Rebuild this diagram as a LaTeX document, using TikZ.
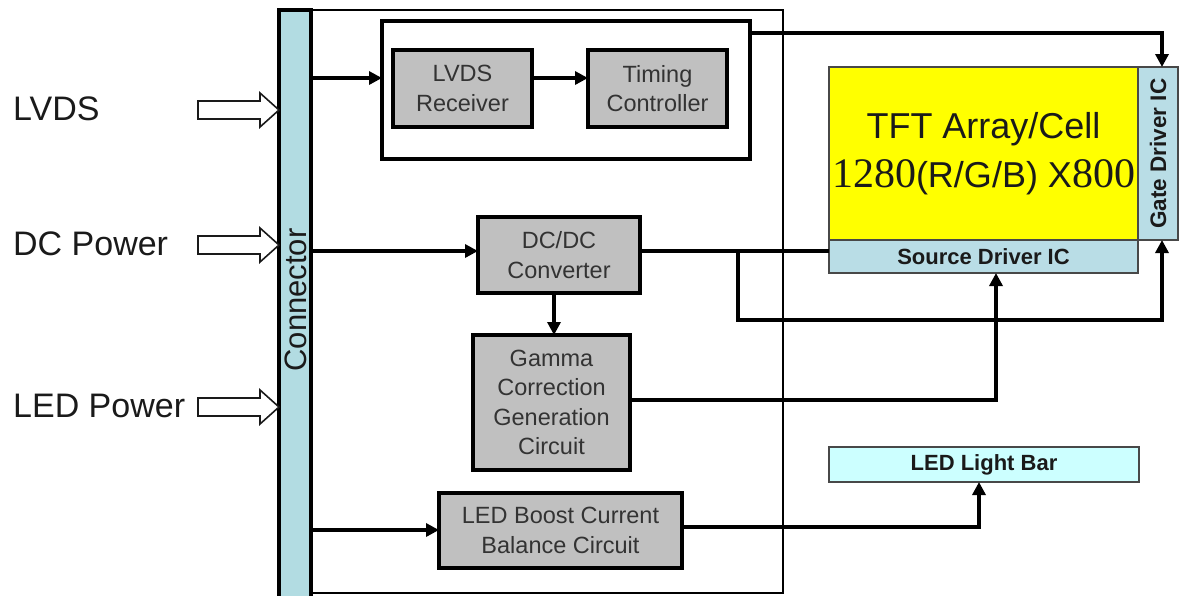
\documentclass[tikz,border=0pt]{standalone}
\usepackage{fontspec}
\setmainfont{Liberation Sans}
\newfontfamily\serifnum{Liberation Serif}
\usetikzlibrary{arrows.meta}
\definecolor{boxgray}{HTML}{C0C0C0}
\definecolor{txtgray}{HTML}{333333}
\definecolor{connfill}{HTML}{B2DCE2}
\definecolor{icfill}{HTML}{B9DDE6}
\definecolor{barfill}{HTML}{CCFFFF}
\definecolor{tftyellow}{HTML}{FFFF00}
\definecolor{ink}{HTML}{1A1A1A}
\tikzset{
  gbox/.style={draw, line width=3.3pt, fill=boxgray, text=txtgray, align=center, inner sep=0pt, outer sep=0pt, font=\fontsize{23.5}{29.5}\selectfont},
  icbox/.style={draw=ink!80, line width=1.2pt, fill=icfill, text=ink, inner sep=0pt, outer sep=0pt, font=\bfseries\fontsize{22}{26}\selectfont},
  frame/.style={draw, line width=3.3pt, inner sep=0pt, outer sep=0pt},
  ln/.style={line width=4pt},
  arr/.style={line width=4pt, -{Triangle[length=13pt,width=13pt]}},
  inlabel/.style={anchor=base west, inner sep=0pt, text=ink, font=\fontsize{34}{40}\selectfont},
  hollow/.style={draw=ink, line width=1.6pt, fill=white, line join=miter}
}
\begin{document}
\begin{tikzpicture}[x=1pt,y=-1pt]
\useasboundingbox (0,0) rectangle (1181,595);
% outer board and connector
\node[frame, line width=2.8pt, minimum width=472pt, minimum height=583pt] (board) at (547,301.5) {};
\node[frame, fill=connfill, minimum width=32pt, minimum height=588pt] (conn) at (295,304) {};
\node[rotate=90, inner sep=0pt, text=ink, font=\fontsize{31}{36}\selectfont] (connlbl) at (296,300) {Connector};
% inner group
\node[frame, minimum width=368pt, minimum height=138pt] (grp) at (566,90) {};
\node[gbox, minimum width=139pt, minimum height=77pt] (rec) at (462.5,88.5) {LVDS\\Receiver};
\node[gbox, minimum width=139pt, minimum height=77pt] (tim) at (657.5,88.5) {Timing\\Controller};
\node[gbox, minimum width=162pt, minimum height=76pt] (dcdc) at (559,255) {DC/DC\\Converter};
\node[gbox, minimum width=157pt, minimum height=135pt] (gam) at (551.5,402.5) {Gamma\\Correction\\Generation\\Circuit};
\node[gbox, minimum width=243pt, minimum height=75pt] (boost) at (560.5,530.5) {LED Boost Current\\Balance Circuit};
% panel
\node[draw=ink!80, line width=1.2pt, fill=tftyellow, minimum width=309pt, minimum height=173pt, inner sep=0pt, align=center, text=ink, font=\fontsize{36}{49}\selectfont] (tft) at (983.5,153.5)
  {TFT Array/Cell\\{\serifnum\fontsize{42}{49}\selectfont 1280}(R/G/B) X{\serifnum\fontsize{42}{49}\selectfont 800}};
\node[icbox, minimum width=309pt, minimum height=33pt] (src) at (983.5,256.5) {Source Driver IC};
\node[icbox, minimum width=40pt, minimum height=173pt] (gate) at (1158,153.5) {};
\node[rotate=90, inner sep=0pt, text=ink, font=\bfseries\fontsize{22.5}{26}\selectfont] (gatelbl) at (gate.center) {Gate Driver IC};
\node[icbox, fill=barfill, minimum width=310pt, minimum height=35pt] (ledbar) at (984,464.5) {LED Light Bar};
% input labels and hollow arrows
\node[inlabel] (lvds) at (13,120) {LVDS};
\node[inlabel] (dcp) at (13,255) {DC Power};
\node[inlabel] (ledp) at (13,417) {LED Power};
\foreach \y in {110,245,407}
  \draw[hollow] (198,\y-9) -- (260,\y-9) -- (260,\y-17) -- (279,\y) -- (260,\y+17) -- (260,\y+9) -- (198,\y+9) -- cycle;
% level coordinates
\coordinate (yLV) at (0,78);
\coordinate (yTop) at (0,33);
\coordinate (yDC) at (0,251);
\coordinate (yBr) at (0,320);
\coordinate (yGam) at (0,400);
\coordinate (yLED) at (0,530);
\coordinate (yBo) at (0,527);
\coordinate (xBr) at (738,0);
\coordinate (xG) at (1162,0);
\coordinate (xS) at (996,0);
\coordinate (xL) at (979,0);
\coordinate (xD) at (554,0);
% connectors
\draw[arr] (conn.east |- yLV) -- (grp.west |- yLV);
\draw[arr] (rec.east |- yLV) -- (tim.west |- yLV);
\draw[arr] (grp.east |- yTop) -| (gate.north -| xG);
\draw[arr] (conn.east |- yDC) -- (dcdc.west |- yDC);
\draw[ln] (dcdc.east |- yDC) -- (src.west |- yDC);
\draw[arr] (xBr |- yDC) |- (xG |- yBr) -- (gate.south -| xG);
\draw[arr] (dcdc.south -| xD) -- (gam.north -| xD);
\draw[arr] (gam.east |- yGam) -| (src.south -| xS);
\draw[arr] (conn.east |- yLED) -- (boost.west |- yLED);
\draw[arr] (boost.east |- yBo) -| (ledbar.south -| xL);
\end{tikzpicture}
\end{document}
